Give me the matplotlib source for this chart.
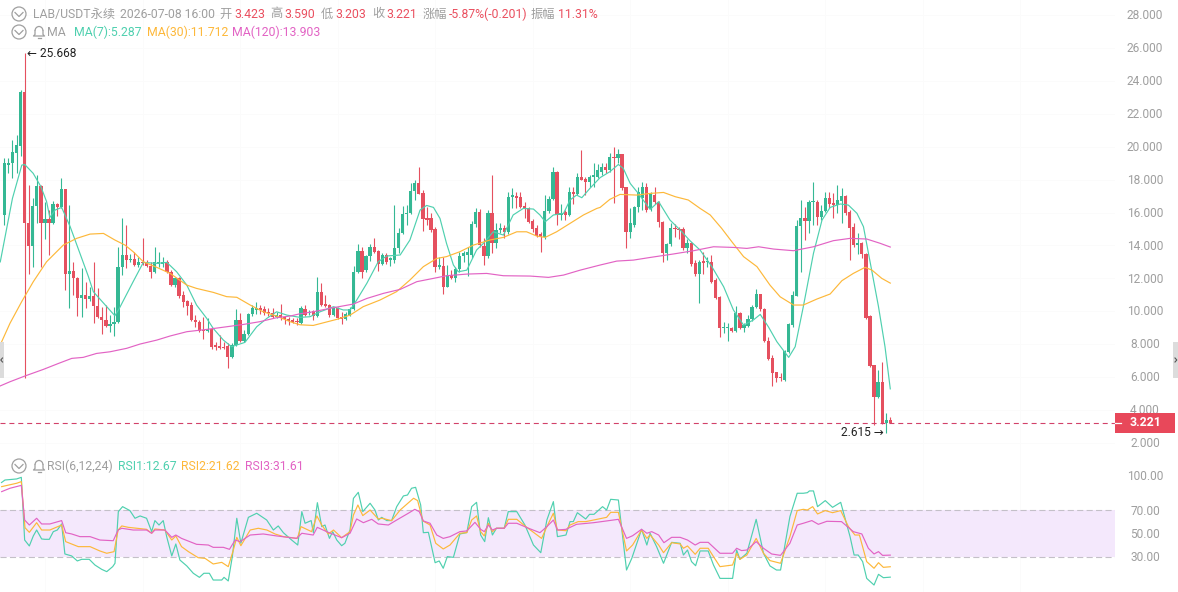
import matplotlib
matplotlib.use("Agg")
import matplotlib.pyplot as plt
import numpy as np
from matplotlib.patches import Circle, Rectangle, Arc
from matplotlib.transforms import ScaledTranslation

# LAB/USDT perpetual, 4h-style candles: open, high, low, close
opens = [15.85,18.9,19.0,19.6,20.06,23.34,15.34,13.98,16.39,17.61,15.34,15.58,15.34,16.52,16.35,17.41,12.26,12.42,12.04,10.82,
10.99,10.74,10.9,10.34,9.67,9.47,9.13,9.21,9.33,12.67,13.4,13.11,13.2,12.81,12.97,12.91,12.77,12.36,12.9,12.87,
13.0,12.4,11.6,12.0,10.98,10.62,10.38,9.47,9.33,8.86,8.8,8.9,7.95,7.89,7.85,7.91,7.24,7.95,9.47,8.21,
8.62,9.83,10.08,10.22,10.15,9.97,9.91,9.63,9.77,9.63,9.51,9.47,9.43,9.31,10.14,9.87,10.01,9.71,11.15,10.42,
10.36,9.77,10.18,9.67,9.51,9.77,10.14,12.36,13.66,12.5,13.36,13.92,13.66,12.87,13.4,13.11,13.11,13.86,14.73,15.91,
15.95,17.3,17.77,17.16,15.64,15.64,15.0,12.67,12.75,11.49,12.2,12.0,12.57,13.36,13.42,13.42,15.3,16.05,13.98,13.36,
15.95,14.13,14.94,15.08,14.83,16.96,17.0,16.96,16.39,16.25,15.5,15.04,14.69,14.49,16.09,16.82,18.48,15.85,16.01,15.85,
17.22,17.1,18.14,18.03,17.83,18.18,18.18,18.48,18.78,18.58,19.39,19.29,19.53,17.53,14.83,15.24,16.31,16.86,17.53,16.19,
17.06,16.66,15.44,13.56,14.08,15.08,15.0,14.98,13.82,14.17,12.91,12.26,13.05,12.97,13.01,11.9,10.89,8.96,8.96,9.0,
8.8,9.87,8.96,9.12,9.53,10.28,11.05,10.12,8.21,7.14,6.29,6.02,5.82,7.5,9.16,10.95,15.2,15.64,15.5,16.66,
16.66,15.7,16.11,16.86,16.56,16.45,16.72,17.02,16.05,15.1,14.03,14.17,13.48,9.71,6.73,4.81,5.72,3.23,3.423]
highs = [19.3,19.3,20.4,20.7,23.45,25.668,17.67,16.86,18.28,17.7,16.66,16.15,16.72,16.55,18.07,17.45,16.45,13.01,12.1,12.61,
11.76,11.5,13.01,11.4,10.28,10.38,9.77,10.28,13.92,15.64,15.24,13.5,13.62,13.3,14.47,13.12,13.0,13.92,13.6,13.3,
13.12,12.5,12.1,12.1,11.25,10.68,10.58,9.77,9.47,9.67,9.57,9.06,8.11,8.56,8.15,8.05,8.05,10.14,9.87,8.86,
9.91,10.38,10.54,10.38,10.3,10.18,10.18,9.97,10.44,9.71,9.63,9.57,9.57,10.3,10.38,10.08,10.08,12.06,11.7,10.98,
10.44,10.28,10.28,9.97,9.97,10.24,12.75,14.08,13.92,13.42,14.08,14.43,13.72,13.52,13.56,13.32,16.45,15.04,16.39,16.45,
17.77,17.97,18.78,17.36,16.35,15.95,15.14,13.32,13.32,12.81,12.5,12.67,13.62,13.68,13.92,15.5,16.25,16.19,14.43,16.15,
18.28,15.38,15.34,15.24,17.26,17.47,17.26,17.26,16.66,16.35,15.58,15.24,14.83,17.06,17.02,18.78,18.5,16.52,16.15,17.57,
17.57,18.38,19.8,18.18,18.28,19.03,18.93,19.03,18.99,19.59,20.0,19.84,19.55,17.57,16.25,16.39,17.57,17.87,17.77,17.26,
17.57,16.72,15.5,14.12,15.34,15.3,15.14,15.1,14.37,14.23,13.11,13.11,13.62,13.32,13.42,12.0,10.95,9.37,9.27,9.06,
10.34,9.97,9.27,9.77,10.38,11.33,11.07,10.18,8.41,7.34,6.31,6.27,7.65,9.3,11.25,15.54,16.76,16.35,16.76,17.87,
16.76,16.45,17.22,17.26,17.16,17.67,17.47,17.04,16.15,15.34,14.73,14.23,13.52,9.77,6.75,6.43,6.94,3.8,3.59]
lows = [15.25,18.4,18.1,18.4,19.43,5.92,12.26,12.67,15.34,12.71,14.37,13.42,15.28,15.79,16.3,11.29,10.22,10.99,9.71,9.63,
10.18,10.65,9.27,9.6,8.62,9.06,8.76,8.52,9.27,12.2,12.61,13.0,12.75,12.7,12.8,12.7,12.04,12.3,12.7,12.7,
12.3,11.53,11.5,10.8,10.28,9.77,9.43,9.06,8.72,8.3,8.76,7.71,7.65,7.71,7.71,6.57,7.18,7.89,8.11,8.11,
8.56,9.73,9.83,9.83,9.8,9.73,9.57,9.57,9.47,9.2,9.16,9.27,9.16,9.25,9.71,9.77,9.47,9.67,10.34,10.24,
9.63,9.71,9.53,9.2,9.47,9.73,10.08,12.3,12.0,12.4,13.07,13.52,12.44,12.81,12.87,12.75,12.91,13.52,14.69,15.24,
15.91,16.76,17.1,14.87,15.24,14.83,12.4,12.55,11.03,11.45,11.94,11.8,12.4,13.01,12.14,13.22,15.14,13.92,12.81,13.22,
13.56,13.82,14.73,14.43,14.69,16.25,16.25,16.25,15.64,15.38,14.83,14.49,13.58,14.37,15.95,16.76,15.24,15.54,15.54,15.79,
16.52,17.06,17.95,17.06,17.57,17.57,18.07,18.28,18.38,18.48,16.6,18.99,17.36,13.82,14.43,15.14,16.05,16.15,16.05,16.11,
16.52,15.14,13.01,13.11,13.96,14.53,14.37,13.72,13.56,12.75,12.16,10.52,12.26,12.71,11.7,10.74,8.46,8.66,8.21,8.76,
8.76,8.92,8.72,9.06,9.43,10.18,10.04,8.15,7.04,5.48,5.68,5.78,5.78,7.48,9.06,10.93,12.4,14.33,14.73,15.24,
15.24,15.54,16.05,16.25,15.64,15.95,15.34,15.85,13.11,13.88,13.48,13.21,9.51,6.59,3.09,4.71,3.13,2.615,3.203]
closes = [18.98,19.0,19.7,20.1,23.34,15.34,13.98,16.39,17.61,15.34,15.58,15.34,16.52,16.35,17.41,12.26,12.42,12.04,10.82,10.99,
10.74,10.9,10.34,9.67,9.47,9.13,9.21,9.33,12.67,13.4,13.11,13.2,12.81,12.97,12.91,12.77,12.36,13.01,13.01,13.0,
12.36,11.6,12.0,10.93,10.54,10.32,9.47,9.33,8.8,8.8,8.9,7.85,7.85,7.79,7.79,7.24,7.95,9.47,8.21,8.62,
9.83,10.18,10.22,10.08,9.91,9.87,9.63,9.77,9.57,9.51,9.43,9.37,9.33,10.18,9.77,9.97,9.71,11.15,10.38,10.32,
9.77,10.18,9.61,9.51,9.83,10.14,12.36,13.66,12.4,13.36,13.92,13.62,12.87,13.42,12.97,13.21,13.86,14.77,15.91,15.99,
17.3,17.77,17.12,15.58,15.54,14.94,12.67,12.81,11.49,12.2,12.0,12.57,13.38,13.52,13.62,15.3,16.05,14.03,13.36,15.95,
14.13,14.94,15.04,14.83,16.96,17.04,16.9,16.31,16.19,15.44,14.98,14.57,14.49,16.09,16.82,18.48,15.85,15.95,15.85,17.22,
17.1,18.18,17.97,17.83,18.18,18.28,18.58,18.78,18.58,19.39,19.29,19.53,17.47,14.83,15.34,16.31,17.26,17.53,16.15,17.16,
16.66,15.44,13.56,14.08,15.04,15.0,14.94,13.82,14.17,12.87,12.26,12.97,12.95,13.05,11.8,10.82,8.96,9.06,9.06,8.8,
9.87,8.96,9.16,9.53,10.28,11.05,10.12,8.21,7.1,6.23,5.92,5.92,7.6,9.22,10.99,15.2,15.64,15.5,16.66,16.72,
15.7,16.11,16.86,16.52,16.45,16.76,17.02,15.99,15.08,14.03,14.17,13.48,9.61,6.67,4.81,5.72,3.19,3.42,3.221]

# Moving averages: candle position and level
ma7_pos = [-1,2,4.3,5,7.1,9,10.4,11.2,12.5,14.1,16.2,18.6,20.7,21.9,25.2,27.2,28.3,31.7,34.2,37.5,40,42.4,44.9,47.3,49.8,51.4,53.9,55.9,59.2,62.1,64.6,67,69.5,72.75,
75.2,77.7,81,83.4,85.1,86.7,89.2,92,94.1,97.4,99.8,102.3,103.9,105.6,107.2,108.8,110.5,111.7,113.8,116.2,117.9,120.3,122.8,125.2,127.7,130.2,131.8,133.1,135.1,137.6,139.2,140.8,142.1,144.1,146.6,
149,151.1,152.3,154,156,158.9,161,163.8,166.3,168.7,171.2,174.1,177,179.4,181.9,184.3,186,188,190.1,193,194.6,196.6,199.1,201.2,203.2,205.7,207.7,209.8,211.4,213.1,215.1,216.7,218]
ma7_val = [13.0,16.86,18.88,18.92,18.38,17.57,16.66,15.7,16.15,16.31,15.14,13.52,12.1,11.19,10.28,9.73,10.18,11.8,12.97,12.91,12.97,12.4,11.59,10.38,9.57,8.96,8.25,7.85,8.11,9.06,9.57,9.97,9.77,9.63,
9.67,9.97,10.28,10.08,10.08,10.68,11.7,13.01,13.36,13.42,14.33,16.15,16.43,16.31,15.64,14.13,12.81,12.4,12.5,13.72,14.13,14.83,14.63,15.85,16.25,16.21,15.85,15.44,15.85,15.95,16.76,17.06,16.9,17.47,18.12,
18.48,18.92,18.68,17.77,17.16,16.19,16.66,15.54,14.94,14.29,13.72,12.71,11.49,10.08,9.16,9.47,9.81,9.06,8.15,7.2,7.85,10.28,13.52,15.54,16.31,16.52,16.45,15.95,15.14,12.91,10.28,7.85,5.287]
ma30_pos = [-0.66,1.39,4.26,7.13,10.4,14.5,17.8,21.1,24.4,27.2,29.7,31.7,34.2,37.5,40.8,44.9,47.3,51.4,54.7,57.2,60.5,63.7,67,70.3,72.75,
76,78.5,81.8,85.1,88.3,92.4,96.5,99.8,103.1,106.4,108.8,112.1,115.4,119.5,122.8,126.1,128.5,131,133.1,135.9,139.2,142.5,145.8,146.6,
149,151.5,155.6,158.9,162.2,165.1,168.3,171.2,173.7,176.5,179,181.9,185.2,188.4,190.9,194.2,196.6,199.9,203.2,206.1,208.9,211.8,213.5,215.9,218]
ma30_val = [8.15,9.27,10.58,11.8,13.01,14.02,14.43,14.69,14.73,14.33,14.02,13.62,13.01,12.67,12.3,11.59,11.39,11.15,10.89,10.85,10.38,9.97,9.71,9.37,9.18,
9.14,9.3,9.51,9.77,10.28,10.68,11.19,11.9,12.71,13.21,13.32,13.62,14.02,14.33,14.49,14.83,14.83,14.57,14.49,14.83,15.34,15.85,16.25,16.31,
16.8,17.1,17.06,17.16,17.22,16.96,16.76,16.25,15.85,15.04,14.23,13.32,12.71,11.59,10.88,10.38,10.38,10.74,11.05,11.86,12.3,12.67,12.5,12.0,11.712]
ma120_pos = [-1.07,1.39,5.08,9.6,13.3,16.6,19.4,22.7,26,30.1,33.4,37.5,40.8,44.9,49.8,54.7,58.8,62.9,67,70.3,72.75,
76,80.1,85.9,89.2,93.3,97.4,101.5,105.6,108.8,113.8,118.7,122.8,129.4,133.9,137.6,141.7,146.6,
150.7,154.8,158.9,164.6,169.6,174.5,179.4,182.7,185.6,189.3,194.2,199.1,204,208.1,212.2,215.5,218]
ma120_val = [5.46,5.72,6.07,6.47,6.83,7.14,7.2,7.44,7.54,7.75,8.01,8.25,8.5,8.76,8.9,9.06,9.2,9.37,9.61,9.71,9.85,
9.97,10.18,10.44,10.78,11.09,11.33,11.8,12.0,12.16,12.26,12.3,12.16,12.14,12.06,12.2,12.5,12.81,
13.05,13.11,13.27,13.48,13.68,13.92,13.88,13.82,13.92,13.78,13.68,13.92,14.29,14.43,14.39,14.13,13.903]

# RSI(6,12,24): candle position and level
rsi1_pos = [-0.7,0.16,3.03,4.18,5,6.15,7.13,7.95,9.18,10,11.07,12.05,13.04,14.1,14.9,16.57,17.96,19.03,20.9,22.3,23.95,25.2,26.66,27.23,28.05,29.1,30.9,32.15,33.4,35,36.25,37.05,38.06,39.1,39.95,41.2,42.2,43.2,44.9,46.5,48,49.1,50.45,51.4,53.5,54.06,55.1,56.1,57.2,58.2,60.05,62.1,64.56,66.2,67.4,68.66,70.7,72.2,73.2,74,75.5,76.04,77.03,78.1,78.9,80,80.8,81.8,83,83.8,85.06,85.9,87.1,88.2,90,91.2,92.04,92.86,94.1,95.3,96.55,98.2,99.2,100.2,101.2,102.45,103.1,104.35,106,107,108,109,110.5,
112.1,113.8,115,116.2,117.2,118.2,119.1,120.1,121.1,123,124,126.1,128.1,130.2,132,133.5,135.1,136.1,138.2,139.2,140,141,143.05,144,145.1,147.2,148.2,149.2,151.1,153.1,154.4,156.8,158.1,158.9,160.5,162.2,164.2,166.3,167.1,168.1,169.1,170.1,171.2,173.2,174.5,176.1,179.2,180.2,181,182.7,185,186.8,188.4,190,191,193.3,195.1,196.6,197.6,198.1,199.1,200.1,202,203.8,205.8,208.1,209.1,210.1,211.2,212.2,214,215.1,216.3,218]
rsi1_val = [94,96.2,97.1,98.5,44.6,39.5,48.1,53.2,45.5,45.2,45.2,51.8,53.2,58.4,32.6,30.9,26.6,28,28,23.1,19.4,17.4,21.7,24.6,69,73.3,69.9,63.3,65.3,63.3,51.8,61.3,57.5,61.3,47.5,30.9,41.2,27.4,22.3,16,12.5,16,16,10.2,10.2,12.5,9.4,30.3,63.3,41.8,64.1,67.6,61.8,53.2,56.7,50.9,44.6,40.3,69,59,61.3,50.9,76.7,56.1,57.5,46,51.8,44.6,39.7,41.8,53.2,80.4,85.6,69,76.2,70.4,61.8,64.1,61.3,61.3,73.3,82.5,83.3,89.1,89.9,74.7,50.9,51.2,25.1,26.6,20.3,30.3,29.7,
49.8,51,73.3,77,48.9,43.2,63.8,48.9,54.7,54.7,69,69,57.5,40.3,33.7,61.8,77.6,47.5,48.9,60.4,60.4,68.1,62.7,66.7,66.7,73.3,70.4,79.6,79,18.8,28.9,53.8,40.3,50.4,38.9,24.6,42.6,41.8,31.7,36,26,22.5,35.2,35.2,23.1,11.6,11.6,36,28,33.2,62.4,33.2,22.3,18.8,18.8,64.7,84.8,84.8,85.3,86.8,86.8,73.3,78.5,72.7,77,47.5,31.7,31.7,26,11.6,5.9,15.1,12.2,12.67]
rsi2_pos = [-0.66,3.03,4.18,5.08,6.15,7.95,9.18,11.2,14.1,15.1,16.57,18.2,21.1,23.5,25.2,27,28,28.9,30.5,35,36.25,37.05,39.5,41.2,42.2,43.6,45.3,47.7,49.4,51.4,53.5,55.1,56.35,57.2,58.2,60.5,62.5,64.6,66.6,68.7,72.1,73,75.6,76.9,78.1,79.7,81,83,85.06,85.9,87,88.2,90,92,92.9,95.3,97.4,100.7,101.7,103,104.75,106.15,108,109.66,
112.1,113.8,115,116.2,117.2,118.1,119.1,120.1,121.1,123,124,126.1,128.1,132.2,133.5,135.1,136.1,138.2,139.2,141.2,143.05,145,148.2,149.2,151.1,153.1,154.6,156.8,158.1,158.9,161,162.2,164.2,166.3,167.1,168.1,170,171.2,173.2,174.5,176.1,179.2,180.2,181,182.7,185,186.8,188.4,191,193.3,195.1,196.6,197.6,198.9,200.1,202,203.8,205.8,207.7,209.3,210.4,212.2,214,215.1,216.3,218]
rsi2_val = [90.5,93.4,94.8,55.2,51.2,59.5,53.2,53.2,57.5,43.2,41.2,38.9,38.9,35.2,33.2,34.6,53.2,56.7,55.5,53.8,50.4,54.1,53.2,44.6,48.1,38.9,34.6,29.4,28.8,24,25.4,21.7,36,46.9,39.7,53.2,54.7,53.2,49.8,47.5,46,56.1,51.8,65.3,57.5,49.8,53.2,46.6,51.8,66.1,74.7,65.6,70.4,62.7,63.3,61.3,70.4,80.5,78.5,61,57.5,41.8,36.9,40.3,
50.4,51,61.8,65.3,51.8,48.1,59,51.8,54.7,54.7,62.4,62.4,56.7,46,56.1,67.6,53.2,52.6,57.5,60.4,60.4,61.8,64.1,68.4,68.4,35.2,40.3,53.2,46,49,40.3,33.7,42.3,41.2,37.5,39.5,32.3,37.5,37.5,30.3,21.7,23.1,33.2,28,31.7,46,33.2,26.9,24.6,47.5,69.9,71,70.4,73.3,67,69.9,68.1,69.9,56.1,48.9,48.9,26,20.3,25.1,21.1,21.62]
rsi3_pos = [-0.66,1.39,4.18,5,6.15,7.95,9.18,11.2,14.1,15.1,16.57,18.6,21.1,23.5,26.8,28,28.9,31.7,35,36.25,37.05,39.5,41.2,42.2,43.6,47.3,50.2,51.4,53.9,55.4,56.8,58,60.5,63.7,67,71.9,73.2,76,77,79.7,83,85.06,86.7,88.35,90.4,92,94.5,96.55,99.4,101,102.1,103.1,104.75,106.4,108,109.66,
112.1,113.8,115.8,117.2,118.1,119.1,120.1,121.1,123,124,126.1,129,131.8,133.5,135.1,136.1,138.2,140.8,145,148.2,151.1,153.1,154.6,156.8,158.1,159.3,161,162.3,164.2,166.3,168.1,170,171.2,173.2,176.1,179.2,180.2,181.4,182.7,185,186.8,188.8,191,193.3,195.1,196.6,198.7,200.3,202.4,206,208.9,211,212.6,214,215.1,216.1,218]
rsi3_val = [86.2,89.1,91.6,61.8,57.5,63.3,58.4,58.4,61.3,50.9,49.8,47.5,47.5,44.6,44,53.2,54.7,53.2,53.2,50.4,53.2,53.2,46.9,48.9,46,40.9,40.3,38.3,38.3,36.6,44.6,43.2,48.9,49.8,48.1,46,50.4,48.9,55.5,51.2,46.6,50.4,62.7,59.5,62.4,58.4,57.5,61.8,67.6,71,69,61,59,48.9,46,47.5,
51.8,52.4,59.8,53.8,51.8,57.5,53.2,54.7,54.7,59,59,54.7,50.9,56.1,61.8,53.2,53.8,58.1,59.5,61,62.4,46,48.3,53.8,50.4,51.8,48.9,42.3,46.9,46.9,44.6,40.3,42.6,42.6,33.2,33.2,37.5,35.5,36,43.2,37.5,32.6,31.4,41.8,57.5,59,61.3,58.1,60.7,60.4,51.8,49.8,37.5,32.6,34.6,31.4,31.61]

price_ticks = [2, 4, 6, 8, 10, 12, 14, 16, 18, 20, 22, 24, 26, 28]
rsi_ticks = [30, 50, 70, 100]
last_price = 3.221
high_label = 25.668
low_label = 2.615

GREEN, RED = "#35b894", "#e5505f"
TEAL, AMBER, PINK = "#4fd0af", "#fdb83a", "#e263c4"
GREY = "#9f9f9f"
FONT = ["Roboto", "Noto Sans CJK SC", "DejaVu Sans"]
W, H = 1178, 592
plt.rcParams["font.family"] = FONT

fig = plt.figure(figsize=(W / 100, H / 100), dpi=100, facecolor="white")

def panel(top, bottom, left=0, right=1115):
    return fig.add_axes([left / W, 1 - bottom / H, (right - left) / W, (bottom - top) / H], facecolor="none")

ax = panel(0, 455)
rs = panel(455, 592)
# one candle slot is 4.064 px; first candle sits 4.33 px in
xlim = (-4.33 / 4.064, (1115 - 4.33) / 4.064)
ax.set_xlim(xlim)
rs.set_xlim(xlim)
ax.set_ylim(1.27, 28.91)
rs.set_ylim(-0.1, 117.7)

nudge = ScaledTranslation(0, 0.6 / 72, fig.dpi_scale_trans)
for a, ticks, fmt in ((ax, price_ticks, "{:.3f}"), (rs, rsi_ticks, "{:.2f}")):
    a.yaxis.tick_right()
    a.set_yticks(ticks)
    a.set_yticklabels([fmt.format(t) for t in ticks], ha="center")
    a.tick_params(axis="y", length=0, pad=21.6, labelsize=8.6, labelcolor=GREY)
    for lab in a.get_yticklabels():
        lab.set_transform(lab.get_transform() + nudge)
    a.set_xticks([])
    for s in a.spines.values():
        s.set_visible(False)
    a.set_axisbelow(True)

# barely-there chart grid
for p in range(10, 274, 24):
    ax.axvline(p, color="#fbfbfb", lw=0.7, zorder=0)
    rs.axvline(p, color="#fbfbfb", lw=0.7, zorder=0)
for t in price_ticks:
    ax.axhline(t, color="#fbfbfb", lw=0.7, zorder=0)

# candles
idx = np.arange(len(closes))
o, h, l, c = map(np.asarray, (opens, highs, lows, closes))
colours = [GREEN if cc >= oo else RED for oo, cc in zip(o, c)]
ax.vlines(idx, l, h, colors=colours, lw=0.8, zorder=2)
ax.bar(idx, np.maximum(np.abs(c - o), 0.06), bottom=np.minimum(o, c), width=0.8, color=colours, lw=0, zorder=3)

ax.plot(ma7_pos, ma7_val, color=TEAL, lw=0.85, zorder=4, solid_joinstyle="round")
ax.plot(ma30_pos, ma30_val, color=AMBER, lw=0.85, zorder=4, solid_joinstyle="round")
ax.plot(ma120_pos, ma120_val, color=PINK, lw=0.85, zorder=4, solid_joinstyle="round")

# last price marker
ax.axhline(last_price, color="#d2416a", lw=0.8, dashes=(4.5, 3.5), zorder=5)

# extreme labels sit just beside their candles
ax.text(5.7, high_label, "← {:.3f}".format(high_label), fontsize=8.6, color="#222222", va="center", ha="left",
        family=["Roboto", "DejaVu Sans"], zorder=6)
ax.text(216.4, low_label, "{:.3f} →".format(low_label), fontsize=8.6, color="#222222", va="center", ha="right",
        family=["Roboto", "DejaVu Sans"], zorder=6)

# RSI band and lines
rs.axhspan(30, 70, color="#f4e8fc", lw=0, zorder=1)
for level in (30, 70):
    rs.axhline(level, color="#c4c0c8", lw=0.8, dashes=(5.5, 3), zorder=2)
rs.plot(rsi1_pos, rsi1_val, color=TEAL, lw=0.85, zorder=3, clip_on=False)
rs.plot(rsi2_pos, rsi2_val, color=AMBER, lw=0.85, zorder=4, clip_on=False)
rs.plot(rsi3_pos, rsi3_val, color=PINK, lw=0.85, zorder=5, clip_on=False)

# overlay in pixel coordinates for the header rows and chart furniture
ov = fig.add_axes([0, 0, 1, 1], facecolor="none")
ov.set_xlim(0, W)
ov.set_ylim(H, 0)
ov.axis("off")

def label(x, y, s, color=GREY, size=8.8, **kw):
    ov.text(x, y, s, color=color, fontsize=size, va="center", ha="left", **kw)

def chevron(cx, cy):
    ov.add_patch(Circle((cx, cy), 7, fill=False, ec=GREY, lw=0.9))
    ov.plot([cx - 4, cx, cx + 4], [cy - 1.5, cy + 2.5, cy - 1.5], color=GREY, lw=0.9)

def bell(cx, cy):
    ov.add_patch(Arc((cx, cy - 1), 8, 9, theta1=180, theta2=360, ec=GREY, lw=0.9))
    ov.plot([cx - 4, cx - 4, cx - 5.5, cx + 5.5, cx + 4, cx + 4], [cy - 1, cy + 2.5, cy + 4, cy + 4, cy + 2.5, cy - 1],
            color=GREY, lw=0.9)
    ov.plot([cx - 1.5, cx + 1.5], [cy + 5.8, cy + 5.8], color=GREY, lw=0.9)

RED_TXT = "#ea4f5f"
chevron(19, 14)
label(33, 14, "LAB/USDT永续")
label(119.5, 14, "2026-07-08 16:00")
label(219, 14, "开")
label(234, 14, "3.423", RED_TXT)
label(270, 14, "高")
label(284.5, 14, "3.590", RED_TXT)
label(321, 14, "低")
label(335.5, 14, "3.203", RED_TXT)
label(372, 14, "收")
label(386, 14, "3.221", RED_TXT)
label(423, 14, "涨幅")
label(449, 14, "-5.87%(-0.201)", RED_TXT)
label(531, 14, "振幅")
label(558, 14, "11.31%", RED_TXT)

chevron(19, 32)
bell(39, 32)
label(47, 32, "MA")
label(74, 32, "MA(7):5.287", TEAL)
label(147, 32, "MA(30):11.712", AMBER)
label(232, 32, "MA(120):13.903", PINK)

chevron(19, 466)
bell(39, 466)
label(47, 466, "RSI(6,12,24)")
label(118, 466, "RSI1:12.67", TEAL)
label(181, 466, "RSI2:21.62", AMBER)
label(245, 466, "RSI3:31.61", PINK)

# last price tag on the scale
ov.add_patch(Rectangle((1115, 413), 60, 19.7, fc="#e8485a", ec="none", zorder=6))
ov.plot([1115, 1121], [423, 423], color="white", lw=0.9, zorder=7)
ov.text(1145, 422.5, "{:.3f}".format(last_price), color="white", fontsize=8.8, fontweight="bold",
        ha="center", va="center", zorder=7)

# scroll handles at the edges
ov.add_patch(Rectangle((0, 342), 4, 36, fc="#dcdcdc", ec="none"))
ov.add_patch(Rectangle((1173, 342), 5, 36, fc="#dcdcdc", ec="none"))
ov.plot([2.5, 0.8, 2.5], [358, 360, 362], color="#555555", lw=0.8)
ov.plot([1175, 1176.8, 1175], [358, 360, 362], color="#555555", lw=0.8)

fig.savefig("out.png", dpi=100, facecolor="white")
